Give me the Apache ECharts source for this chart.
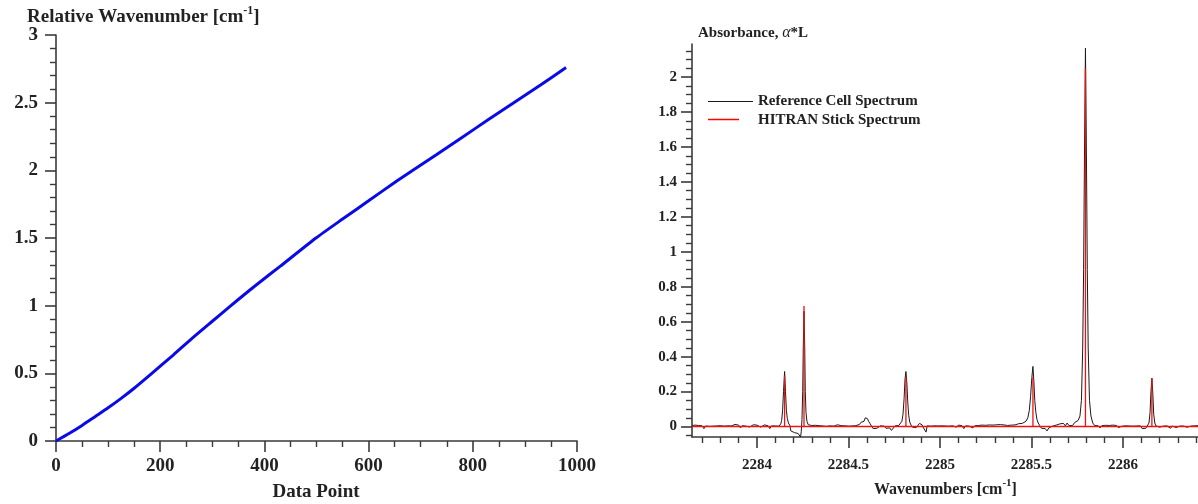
<!DOCTYPE html>
<html><head><meta charset="utf-8">
<script src="https://cdn.jsdelivr.net/npm/echarts@6/dist/echarts.min.js"></script>
<style>html,body{margin:0;padding:0;background:#fff}#c{width:1198px;height:504px}</style>
</head><body><div id="c"></div>
<script>
// ---------- Left chart data ----------
const dataPointX = [0, 25, 50, 75, 100, 125, 150, 184, 225, 260, 300, 334, 380, 430, 499, 550, 600, 650, 685, 730, 780, 830, 875, 930, 979];
const relWavenumber = [0, 0.055, 0.115, 0.18, 0.245, 0.315, 0.39, 0.5, 0.635, 0.755, 0.885, 0.995, 1.14, 1.29, 1.5, 1.64, 1.775, 1.91, 2.0, 2.115, 2.245, 2.375, 2.49, 2.63, 2.76];

// ---------- Right chart data ----------
const refSpectrum = [
[2283.645,0.005],[2283.66,0.008],[2283.67,0.002],[2283.68,0.006],[2283.69,-0.004],[2283.70,0.004],[2283.71,-0.012],[2283.72,0.003],
[2283.73,0.007],[2283.74,0.001],[2283.75,0.006],[2283.76,0.002],[2283.77,0.008],[2283.78,0.003],[2283.79,-0.006],[2283.80,0.005],
[2283.81,0.009],[2283.82,0.002],[2283.83,0.006],[2283.84,0.004],[2283.85,0.010],[2283.86,0.003],[2283.87,0.007],[2283.88,0.012],
[2283.89,0.004],[2283.90,0.008],[2283.91,-0.008],[2283.92,0.005],[2283.93,0.009],[2283.94,0.002],[2283.95,0.006],[2283.96,-0.003],
[2283.97,0.007],[2283.98,0.010],[2283.99,0.003],[2284.00,0.008],[2284.01,0.004],[2284.02,-0.004],[2284.03,0.006],[2284.04,0.009],
[2284.05,0.002],[2284.06,0.005],[2284.07,-0.012],[2284.08,0.004],[2284.09,0.001],[2284.10,0.003],[2284.11,-0.004],[2284.12,0.002],
[2284.13,0.015],[2284.135,0.035],[2284.14,0.09],[2284.145,0.2],[2284.151,0.315],[2284.156,0.2],[2284.161,0.09],[2284.166,0.045],
[2284.172,0.02],[2284.18,0.005],[2284.185,-0.025],[2284.195,-0.03],[2284.205,-0.035],[2284.215,-0.032],[2284.225,-0.04],[2284.232,-0.045],
[2284.238,-0.06],[2284.242,-0.03],[2284.246,0.04],[2284.25,0.2],[2284.253,0.45],[2284.257,0.66],[2284.261,0.45],[2284.264,0.2],
[2284.268,0.08],[2284.273,0.03],[2284.28,0.01],[2284.29,0.004],[2284.30,0.006],[2284.31,0.002],[2284.32,0.007],[2284.33,-0.003],
[2284.34,0.005],[2284.35,0.008],[2284.36,0.003],[2284.37,0.006],[2284.38,0.001],[2284.39,0.009],[2284.40,0.004],[2284.41,0.007],
[2284.42,0.002],[2284.43,0.006],[2284.44,0.010],[2284.45,0.003],[2284.46,0.005],[2284.47,-0.006],[2284.48,0.004],[2284.49,0.008],
[2284.50,0.002],[2284.51,0.006],[2284.52,0.003],[2284.53,-0.004],[2284.54,0.005],[2284.55,0.009],[2284.56,0.012],[2284.57,0.025],
[2284.578,0.035],[2284.585,0.03],[2284.592,0.05],[2284.598,0.06],[2284.604,0.045],[2284.61,0.03],[2284.617,0.018],[2284.625,0.008],
[2284.635,-0.012],[2284.645,-0.018],[2284.655,-0.01],[2284.665,-0.016],[2284.675,0.004],[2284.685,0.008],[2284.695,0.002],[2284.705,-0.01],
[2284.715,-0.02],[2284.725,-0.008],[2284.735,-0.022],[2284.745,-0.012],[2284.755,0.004],[2284.765,0.002],[2284.775,0.006],[2284.785,0.012],
[2284.792,0.03],[2284.798,0.07],[2284.804,0.16],[2284.809,0.27],[2284.814,0.315],[2284.819,0.25],[2284.824,0.14],[2284.829,0.065],
[2284.835,0.025],[2284.842,0.008],[2284.85,-0.004],[2284.86,0.002],[2284.87,-0.006],[2284.88,0.004],[2284.888,0.018],[2284.895,0.02],
[2284.902,0.01],[2284.91,-0.008],[2284.917,0.002],[2284.924,-0.032],[2284.93,0.004],[2284.94,0.006],[2284.95,0.002],[2284.96,0.008],
[2284.97,0.004],[2284.98,0.006],[2284.99,0.003],[2285.00,0.005],[2285.01,0.004],[2285.02,0.006],[2285.03,0.003],[2285.04,0.005],
[2285.05,0.002],[2285.06,0.007],[2285.07,0.004],[2285.08,0.006],[2285.09,-0.004],[2285.10,0.008],[2285.11,0.003],[2285.12,0.005],
[2285.13,-0.012],[2285.14,0.004],[2285.15,0.006],[2285.16,0.002],[2285.17,0.007],[2285.18,-0.008],[2285.19,0.004],[2285.20,0.003],
[2285.21,0.006],[2285.22,0.002],[2285.23,0.008],[2285.24,0.004],[2285.25,0.007],[2285.26,0.003],[2285.27,0.009],[2285.28,0.005],
[2285.29,0.008],[2285.30,0.004],[2285.31,0.010],[2285.32,0.006],[2285.33,0.011],[2285.34,0.005],[2285.35,0.009],[2285.36,0.012],
[2285.37,0.006],[2285.38,0.010],[2285.39,0.008],[2285.40,0.013],[2285.41,0.009],[2285.42,0.012],[2285.43,0.016],[2285.44,0.012],
[2285.45,0.018],[2285.46,0.022],[2285.47,0.03],[2285.48,0.05],[2285.488,0.09],[2285.495,0.17],[2285.502,0.28],[2285.508,0.344],
[2285.513,0.26],[2285.518,0.15],[2285.524,0.08],[2285.53,0.04],[2285.537,0.02],[2285.545,0.005],[2285.555,-0.01],[2285.565,-0.02],
[2285.575,-0.012],[2285.585,-0.025],[2285.595,-0.008],[2285.605,-0.018],[2285.615,0.002],[2285.625,-0.006],[2285.635,0.008],[2285.645,0.004],
[2285.655,0.015],[2285.665,0.006],[2285.675,0.018],[2285.685,0.004],[2285.695,0.02],[2285.705,0.005],[2285.715,0.01],[2285.725,0.006],
[2285.735,0.022],[2285.745,0.012],[2285.755,0.035],[2285.765,0.06],[2285.773,0.15],[2285.78,0.45],[2285.785,0.9],[2285.79,1.6],
[2285.795,2.166],[2285.8,1.6],[2285.805,0.9],[2285.81,0.45],[2285.817,0.15],[2285.825,0.06],[2285.835,0.02],[2285.845,0.006],
[2285.855,-0.004],[2285.865,0.004],[2285.875,-0.008],[2285.885,0.005],[2285.895,0.002],[2285.905,0.007],[2285.915,-0.004],[2285.925,0.006],
[2285.935,0.003],[2285.945,0.008],[2285.955,0.002],[2285.965,0.006],[2285.975,-0.006],[2285.985,0.005],[2285.995,0.002],[2286.005,0.007],
[2286.015,0.004],[2286.025,0.006],[2286.035,0.003],[2286.045,0.005],[2286.055,0.002],[2286.065,0.006],[2286.075,0.003],[2286.085,0.005],
[2286.095,0.004],[2286.105,-0.012],[2286.115,-0.018],[2286.125,-0.01],[2286.135,-0.004],[2286.142,0.02],[2286.148,0.08],[2286.153,0.2],
[2286.158,0.276],[2286.163,0.19],[2286.168,0.07],[2286.174,0.02],[2286.18,0.004],[2286.19,0.006],[2286.20,-0.004],[2286.21,0.005],
[2286.22,0.002],[2286.23,-0.008],[2286.24,0.004],[2286.25,0.007],[2286.26,-0.01],[2286.27,0.003],[2286.28,0.005],[2286.29,-0.006],
[2286.30,0.004],[2286.31,0.002],[2286.32,-0.008],[2286.33,0.003],[2286.34,0.006],[2286.35,-0.004],[2286.36,0.004],[2286.37,0.002],
[2286.38,-0.006],[2286.39,0.004],[2286.40,0.002],[2286.41,0.005]
];
const stickPos = [2284.151, 2284.257, 2284.814, 2285.508, 2285.795, 2286.158];
const stickHeight = [0.29, 0.69, 0.284, 0.284, 2.05, 0.276];

// ---------- Tick labels ----------
const leftXTicks = [0, 200, 400, 600, 800, 1000];
const leftYTicks = [0, 0.5, 1, 1.5, 2, 2.5, 3];
const rightXLabels = [2284, 2284.5, 2285, 2285.5, 2286];
const rightXMinor = [2283.7, 2283.8, 2283.9, 2284.1, 2284.2, 2284.3, 2284.4, 2284.6, 2284.7, 2284.8, 2284.9, 2285.1, 2285.2, 2285.3, 2285.4, 2285.6, 2285.7, 2285.8, 2285.9, 2286.1, 2286.2, 2286.3, 2286.4];
const rightYLabels = [0, 0.2, 0.4, 0.6, 0.8, 1, 1.2, 1.4, 1.6, 1.8, 2];
const rightYMinor = [-0.05, 0.05, 0.1, 0.15, 0.25, 0.3, 0.35, 0.45, 0.5, 0.55, 0.65, 0.7, 0.75, 0.85, 0.9, 0.95, 1.05, 1.1, 1.15, 1.25, 1.3, 1.35, 1.45, 1.5, 1.55, 1.65, 1.7, 1.75, 1.85, 1.9, 1.95, 2.05, 2.1, 2.15];

const RX_MIN = 2283.645, RX_MAX = 2286.41, RY_MIN = -0.06, RY_MAX = 2.19;

const stickData = [[RX_MIN, 0]];
stickPos.forEach((p, i) => { stickData.push([p, 0], [p, stickHeight[i]], [p, 0]); });
stickData.push([RX_MAX, 0]);

const SERIF = '"Liberation Serif","DejaVu Serif",serif';
const axisCol = '#3a3a3a';
const plain = v => String(Math.round(v * 1000) / 1000);
const lblL = { fontFamily: SERIF, fontWeight: 'bold', fontSize: 19, color: '#222', formatter: plain };
const lblR = { fontFamily: SERIF, fontWeight: 'bold', fontSize: 15, color: '#222', formatter: plain };

const chart = echarts.init(document.getElementById('c'), null, { renderer: 'canvas' });
chart.setOption({
  animation: false,
  backgroundColor: '#fff',
  grid: [
    { left: 56, top: 35, width: 521, height: 406 },
    { left: 692, top: 44, right: 0, height: 393 }
  ],
  xAxis: [
    { type: 'value', gridIndex: 0, min: 0, max: 1000, interval: 200,
      axisLine: { show: true, lineStyle: { color: axisCol, width: 1.6 } },
      axisTick: { show: true, length: 11, lineStyle: { color: axisCol, width: 1.6 } },
      minorTick: { show: true, splitNumber: 4, length: 6, lineStyle: { color: axisCol, width: 1.4 } },
      splitLine: { show: false },
      axisLabel: Object.assign({ margin: 16 }, lblL) },
    { type: 'value', gridIndex: 1, min: RX_MIN, max: RX_MAX, position: 'bottom',
      axisLine: { show: true, onZero: false, lineStyle: { color: axisCol, width: 1.6 } },
      axisTick: { show: true, length: 11, customValues: rightXLabels, lineStyle: { color: axisCol, width: 1.6 } },
      splitLine: { show: false },
      axisLabel: Object.assign({ margin: 21, customValues: rightXLabels }, lblR) },
    { type: 'value', gridIndex: 1, min: RX_MIN, max: RX_MAX, position: 'bottom',
      axisLine: { show: false, onZero: false },
      axisTick: { show: true, length: 6, customValues: rightXMinor, lineStyle: { color: axisCol, width: 1.4 } },
      splitLine: { show: false },
      axisLabel: { show: false } }
  ],
  yAxis: [
    { type: 'value', gridIndex: 0, min: 0, max: 3, interval: 0.5,
      axisLine: { show: true, lineStyle: { color: axisCol, width: 1.6 } },
      axisTick: { show: true, length: 11, lineStyle: { color: axisCol, width: 1.6 } },
      minorTick: { show: true, splitNumber: 5, length: 6, lineStyle: { color: axisCol, width: 1.4 } },
      splitLine: { show: false },
      axisLabel: Object.assign({ margin: 18 }, lblL) },
    { type: 'value', gridIndex: 1, min: RY_MIN, max: RY_MAX, position: 'left',
      axisLine: { show: true, onZero: false, lineStyle: { color: axisCol, width: 1.6 } },
      axisTick: { show: true, length: 11, customValues: rightYLabels, lineStyle: { color: axisCol, width: 1.6 } },
      splitLine: { show: false },
      axisLabel: Object.assign({ margin: 15, customValues: rightYLabels }, lblR) },
    { type: 'value', gridIndex: 1, min: RY_MIN, max: RY_MAX, position: 'left',
      axisLine: { show: false, onZero: false },
      axisTick: { show: true, length: 6, customValues: rightYMinor, lineStyle: { color: axisCol, width: 1.4 } },
      splitLine: { show: false },
      axisLabel: { show: false } }
  ],
  series: [
    { type: 'line', xAxisIndex: 0, yAxisIndex: 0, showSymbol: false, symbol: 'none', smooth: 0.2,
      data: dataPointX.map((x, i) => [x, relWavenumber[i]]),
      lineStyle: { color: '#0a0ae8', width: 3 } },
    { name: 'Reference Cell Spectrum', type: 'line', xAxisIndex: 1, yAxisIndex: 1, symbol: 'none', showSymbol: false,
      data: refSpectrum, lineStyle: { color: '#1a1a1a', width: 1 }, z: 3 },
    { name: 'HITRAN Stick Spectrum', type: 'line', xAxisIndex: 1, yAxisIndex: 1, symbol: 'none', showSymbol: false,
      data: stickData, lineStyle: { color: '#ee1111', width: 1.3 }, z: 4 }
  ],
  graphic: [
    { type: 'text', left: 27, top: 5, style: {
        text: '{a|Relative Wavenumber [cm}{s|-1}{a|]}',
        rich: { a: { fontFamily: SERIF, fontWeight: 'bold', fontSize: 19, fill: '#222', lineHeight: 22, verticalAlign: 'bottom' },
                s: { fontFamily: SERIF, fontWeight: 'bold', fontSize: 12, fill: '#222', lineHeight: 22, verticalAlign: 'top' } } } },
    { type: 'text', x: 316, y: 492, style: { text: 'Data Point', fontFamily: SERIF, fontWeight: 'bold', fontSize: 19, fill: '#222', align: 'center', verticalAlign: 'middle' } },
    { type: 'text', left: 698, top: 25, style: {
        text: '{a|Absorbance, }{g|α}{a|*L}',
        rich: { a: { fontFamily: SERIF, fontWeight: 'bold', fontSize: 15, fill: '#222' },
                g: { fontFamily: SERIF, fontStyle: 'italic', fontSize: 16, fill: '#222' } } } },
    { type: 'text', left: 874, top: 478, style: {
        text: '{a|Wavenumbers [cm}{s|-1}{a|]}',
        rich: { a: { fontFamily: SERIF, fontWeight: 'bold', fontSize: 16, fill: '#222', lineHeight: 20, verticalAlign: 'bottom' },
                s: { fontFamily: SERIF, fontWeight: 'bold', fontSize: 11, fill: '#222', lineHeight: 20, verticalAlign: 'top' } } } },
    { type: 'line', shape: { x1: 708, y1: 101.5, x2: 753, y2: 101.5 }, style: { stroke: '#1a1a1a', lineWidth: 1.2 } },
    { type: 'line', shape: { x1: 708, y1: 119.5, x2: 739, y2: 119.5 }, style: { stroke: '#ff0000', lineWidth: 1.5 } },
    { type: 'text', x: 758, y: 101, style: { text: 'Reference Cell Spectrum', fontFamily: SERIF, fontWeight: 'bold', fontSize: 15, fill: '#222', verticalAlign: 'middle' } },
    { type: 'text', x: 758, y: 120, style: { text: 'HITRAN Stick Spectrum', fontFamily: SERIF, fontWeight: 'bold', fontSize: 15, fill: '#222', verticalAlign: 'middle' } }
  ]
});
</script></body></html>
